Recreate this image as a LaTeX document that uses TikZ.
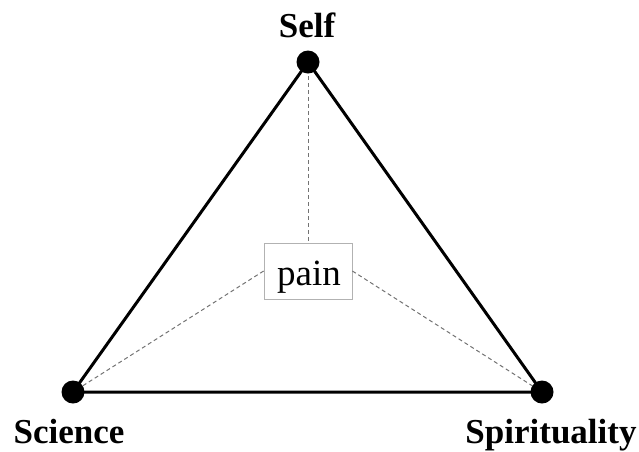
\documentclass[tikz,border=0pt]{standalone}
\usepackage{fontspec}
\setmainfont{Liberation Serif}
\begin{document}
\begin{tikzpicture}[x=1pt,y=-1pt,
  dot/.style={circle,fill=black,inner sep=0pt,minimum size=23pt},
  edge/.style={line width=3pt},
  dashline/.style={draw=black!55,line width=1pt,dash pattern=on 4pt off 3pt},
  lbl/.style={font=\fontsize{35}{38}\selectfont\bfseries,anchor=base,inner sep=0pt},
  painbox/.style={draw=gray!60,line width=0.8pt,minimum width=88pt,minimum height=56pt,inner sep=0pt}]
\useasboundingbox (0,0) rectangle (639,451);
\node[painbox] (pain) at (308,271) {};
\node[font=\fontsize{37}{40}\selectfont,anchor=base,inner sep=0pt] (paintext) at (309,285) {pain};
\coordinate (selfc) at (308,62);
\coordinate (scic) at (73,392);
\coordinate (spic) at (542,392);
\draw[dashline] (selfc) -- (pain.north);
\draw[dashline] (pain.west) -- (scic);
\draw[dashline] (pain.east) -- (spic);
\draw[edge] (selfc) -- (scic) -- (spic) -- cycle;
\node[dot] (self) at (selfc) {};
\node[dot] (sci) at (scic) {};
\node[dot] (spi) at (spic) {};
\node[lbl] (selflbl) at (307,37) {Self};
\node[lbl] (scilbl) at (69,443) {Science};
\node[lbl] (spilbl) at (551,443) {Spirituality};
\end{tikzpicture}
\end{document}
